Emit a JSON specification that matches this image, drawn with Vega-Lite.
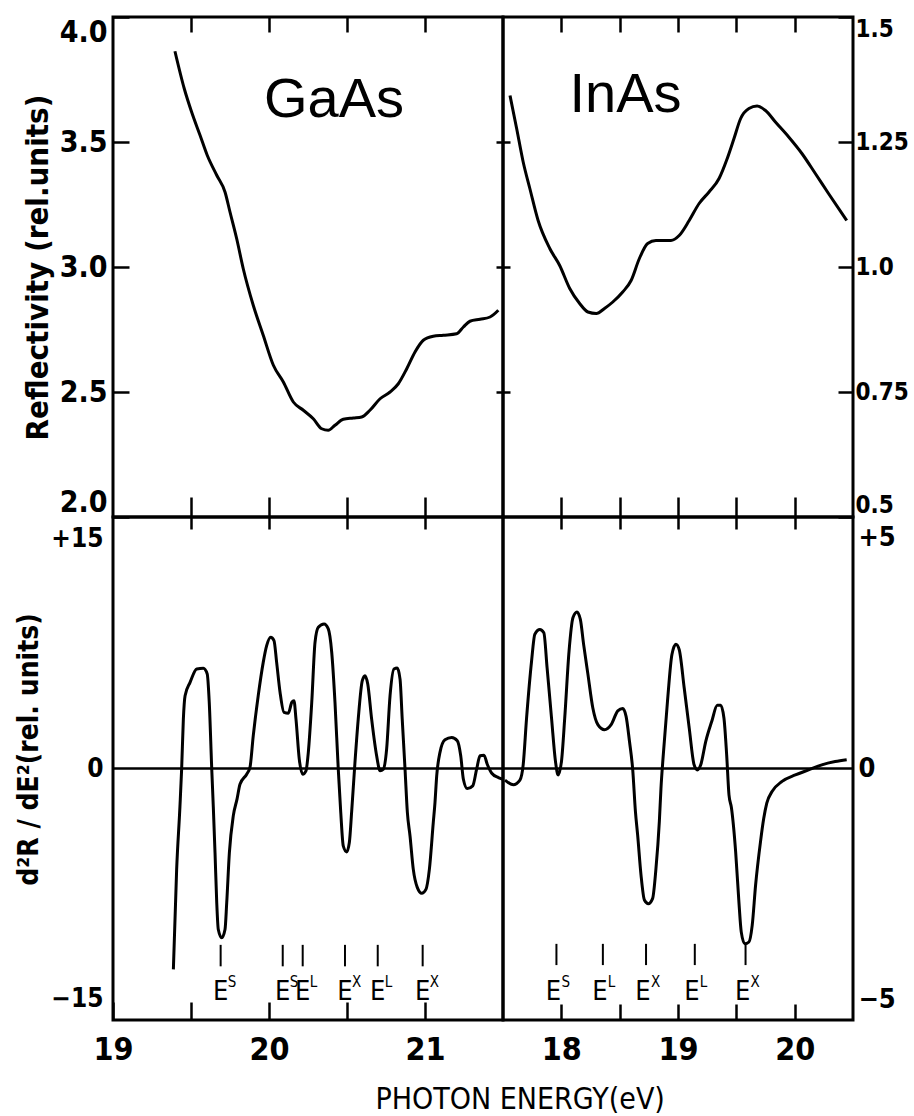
{
  "$schema": "https://vega.github.io/schema/vega-lite/v6.json",
  "background": "white",
  "padding": {"left": 14, "top": 14, "right": 0, "bottom": 0},
  "spacing": 0,
  "bounds": "flush",
  "columns": 2,
  "config": {
    "view": {"stroke": "black", "strokeWidth": 3, "fill": null},
    "font": "DejaVu Sans Condensed",
    "axis": {
      "domain": false, "grid": false, "tickColor": "black", "tickWidth": 2.5,
      "labelColor": "black", "titleColor": "black",
      "labelFont": "DejaVu Sans Condensed", "titleFont": "DejaVu Sans Condensed",
      "labelFontWeight": "bold", "titleFontWeight": "bold", "labelOverlap": false
    },
    "line": {"color": "black", "strokeWidth": 3, "interpolate": "monotone"},
    "rule": {"color": "black"},
    "text": {"color": "black", "font": "DejaVu Sans Condensed"}
  },
  "datasets": {
    "one": [{}],
    "gaasR": [
      {"E": 19.397, "R": 3.863}, {"E": 19.457, "R": 3.713}, {"E": 19.504, "R": 3.62}, {"E": 19.558, "R": 3.527},
      {"E": 19.604, "R": 3.447}, {"E": 19.665, "R": 3.367}, {"E": 19.718, "R": 3.30}, {"E": 19.750, "R": 3.22},
      {"E": 19.793, "R": 3.113}, {"E": 19.835, "R": 2.993}, {"E": 19.899, "R": 2.847}, {"E": 19.963, "R": 2.727},
      {"E": 20.028, "R": 2.607}, {"E": 20.092, "R": 2.54}, {"E": 20.156, "R": 2.46}, {"E": 20.220, "R": 2.427},
      {"E": 20.284, "R": 2.393}, {"E": 20.338, "R": 2.353}, {"E": 20.380, "R": 2.347}, {"E": 20.423, "R": 2.367},
      {"E": 20.476, "R": 2.391}, {"E": 20.540, "R": 2.396}, {"E": 20.594, "R": 2.40}, {"E": 20.647, "R": 2.427},
      {"E": 20.712, "R": 2.473}, {"E": 20.776, "R": 2.50}, {"E": 20.829, "R": 2.533}, {"E": 20.883, "R": 2.593},
      {"E": 20.936, "R": 2.66}, {"E": 20.989, "R": 2.707}, {"E": 21.053, "R": 2.723}, {"E": 21.117, "R": 2.727},
      {"E": 21.203, "R": 2.733}, {"E": 21.246, "R": 2.76}, {"E": 21.288, "R": 2.783}, {"E": 21.353, "R": 2.791},
      {"E": 21.417, "R": 2.80}, {"E": 21.470, "R": 2.827}
    ],
    "inasR": [
      {"E": 17.560, "R": 1.343}, {"E": 17.617, "R": 1.277}, {"E": 17.673, "R": 1.21}, {"E": 17.730, "R": 1.157},
      {"E": 17.801, "R": 1.093}, {"E": 17.901, "R": 1.037}, {"E": 17.986, "R": 1.003}, {"E": 18.072, "R": 0.957},
      {"E": 18.157, "R": 0.927}, {"E": 18.228, "R": 0.91}, {"E": 18.300, "R": 0.907}, {"E": 18.370, "R": 0.917},
      {"E": 18.441, "R": 0.93}, {"E": 18.526, "R": 0.95}, {"E": 18.598, "R": 0.973}, {"E": 18.669, "R": 1.017},
      {"E": 18.740, "R": 1.047}, {"E": 18.811, "R": 1.053}, {"E": 18.939, "R": 1.053}, {"E": 19.010, "R": 1.063},
      {"E": 19.096, "R": 1.093}, {"E": 19.181, "R": 1.127}, {"E": 19.266, "R": 1.15}, {"E": 19.352, "R": 1.177},
      {"E": 19.422, "R": 1.217}, {"E": 19.480, "R": 1.257}, {"E": 19.537, "R": 1.297}, {"E": 19.608, "R": 1.317},
      {"E": 19.678, "R": 1.322}, {"E": 19.750, "R": 1.313}, {"E": 19.835, "R": 1.29}, {"E": 19.949, "R": 1.26},
      {"E": 20.062, "R": 1.227}, {"E": 20.177, "R": 1.187}, {"E": 20.290, "R": 1.147}, {"E": 20.446, "R": 1.093}
    ],
    "gaasD": [
      {"E": 19.387, "V": -13.1}, {"E": 19.408, "V": -6.58}, {"E": 19.429, "V": -2.5}, {"E": 19.440, "V": -0.04},
      {"E": 19.451, "V": 3.22}, {"E": 19.462, "V": 4.75}, {"E": 19.494, "V": 5.62}, {"E": 19.537, "V": 6.49},
      {"E": 19.579, "V": 6.53}, {"E": 19.604, "V": 6.16}, {"E": 19.617, "V": 4.31}, {"E": 19.633, "V": -0.04},
      {"E": 19.643, "V": -2.5}, {"E": 19.654, "V": -5.49}, {"E": 19.665, "V": -8.75}, {"E": 19.675, "V": -10.5},
      {"E": 19.697, "V": -11.04}, {"E": 19.718, "V": -10.5}, {"E": 19.729, "V": -8.75}, {"E": 19.746, "V": -5.49},
      {"E": 19.771, "V": -3.09}, {"E": 19.795, "V": -2.0}, {"E": 19.814, "V": -1.03}, {"E": 19.857, "V": -0.37},
      {"E": 19.878, "V": 0.07}, {"E": 19.899, "V": 2.13}, {"E": 19.931, "V": 4.75}, {"E": 19.963, "V": 6.92},
      {"E": 19.985, "V": 8.01}, {"E": 20.011, "V": 8.56}, {"E": 20.032, "V": 8.34}, {"E": 20.049, "V": 6.92},
      {"E": 20.071, "V": 4.96}, {"E": 20.096, "V": 3.66}, {"E": 20.124, "V": 3.61}, {"E": 20.146, "V": 4.31},
      {"E": 20.160, "V": 4.42}, {"E": 20.173, "V": 3.22}, {"E": 20.194, "V": 0.61}, {"E": 20.216, "V": -0.37},
      {"E": 20.237, "V": -0.15}, {"E": 20.252, "V": 1.05}, {"E": 20.274, "V": 4.31}, {"E": 20.295, "V": 8.23},
      {"E": 20.316, "V": 9.21}, {"E": 20.353, "V": 9.43}, {"E": 20.380, "V": 9.10}, {"E": 20.402, "V": 7.58},
      {"E": 20.423, "V": 4.31}, {"E": 20.444, "V": -0.04}, {"E": 20.460, "V": -2.87}, {"E": 20.476, "V": -5.05},
      {"E": 20.498, "V": -5.44}, {"E": 20.515, "V": -4.83}, {"E": 20.530, "V": -2.8}, {"E": 20.551, "V": 0.39},
      {"E": 20.572, "V": 3.22}, {"E": 20.598, "V": 5.73}, {"E": 20.615, "V": 6.05}, {"E": 20.633, "V": 5.51},
      {"E": 20.658, "V": 3.22}, {"E": 20.690, "V": 0.83}, {"E": 20.712, "V": -0.15}, {"E": 20.733, "V": -0.04},
      {"E": 20.754, "V": 1.26}, {"E": 20.776, "V": 4.75}, {"E": 20.801, "V": 6.49}, {"E": 20.822, "V": 6.55},
      {"E": 20.840, "V": 5.83}, {"E": 20.854, "V": 3.22}, {"E": 20.872, "V": -0.04}, {"E": 20.887, "V": -2.87},
      {"E": 20.904, "V": -4.40}, {"E": 20.925, "V": -6.58}, {"E": 20.951, "V": -7.77}, {"E": 20.979, "V": -8.14},
      {"E": 21.006, "V": -7.88}, {"E": 21.028, "V": -6.58}, {"E": 21.053, "V": -3.53}, {"E": 21.064, "V": -2.22},
      {"E": 21.075, "V": -0.48}, {"E": 21.096, "V": 1.05}, {"E": 21.128, "V": 1.87}, {"E": 21.171, "V": 2.02},
      {"E": 21.207, "V": 1.81}, {"E": 21.229, "V": 0.83}, {"E": 21.246, "V": -0.70}, {"E": 21.271, "V": -1.31},
      {"E": 21.306, "V": -1.13}, {"E": 21.331, "V": -0.04}, {"E": 21.353, "V": 0.83}, {"E": 21.378, "V": 0.87},
      {"E": 21.399, "V": 0.28}, {"E": 21.428, "V": -0.31}, {"E": 21.470, "V": -0.59}, {"E": 21.5, "V": -0.70}
    ],
    "inasD": [
      {"E": 17.517, "V": -0.25}, {"E": 17.588, "V": -0.35}, {"E": 17.645, "V": -0.25}, {"E": 17.673, "V": 0.08},
      {"E": 17.702, "V": 1.09}, {"E": 17.745, "V": 2.33}, {"E": 17.773, "V": 2.91}, {"E": 17.816, "V": 3.01},
      {"E": 17.850, "V": 2.94}, {"E": 17.878, "V": 2.18}, {"E": 17.916, "V": 1.09}, {"E": 17.950, "V": 0.15},
      {"E": 17.972, "V": -0.14}, {"E": 18.001, "V": 0.15}, {"E": 18.029, "V": 1.09}, {"E": 18.066, "V": 2.54},
      {"E": 18.100, "V": 3.27}, {"E": 18.134, "V": 3.39}, {"E": 18.163, "V": 3.23}, {"E": 18.191, "V": 2.69},
      {"E": 18.228, "V": 2.04}, {"E": 18.270, "V": 1.31}, {"E": 18.313, "V": 0.95}, {"E": 18.370, "V": 0.84},
      {"E": 18.427, "V": 0.95}, {"E": 18.484, "V": 1.25}, {"E": 18.526, "V": 1.30}, {"E": 18.555, "V": 1.13},
      {"E": 18.584, "V": 0.59}, {"E": 18.612, "V": -0.03}, {"E": 18.635, "V": -0.93}, {"E": 18.654, "V": -1.44},
      {"E": 18.683, "V": -2.31}, {"E": 18.712, "V": -2.85}, {"E": 18.746, "V": -2.93}, {"E": 18.782, "V": -2.82},
      {"E": 18.811, "V": -2.17}, {"E": 18.840, "V": -1.15}, {"E": 18.854, "V": -0.43}, {"E": 18.874, "V": 0.30},
      {"E": 18.910, "V": 1.46}, {"E": 18.948, "V": 2.47}, {"E": 18.982, "V": 2.69}, {"E": 19.010, "V": 2.58},
      {"E": 19.053, "V": 1.75}, {"E": 19.096, "V": 0.88}, {"E": 19.138, "V": 0.08}, {"E": 19.166, "V": -0.03},
      {"E": 19.195, "V": 0.08}, {"E": 19.238, "V": 0.59}, {"E": 19.289, "V": 1.02}, {"E": 19.337, "V": 1.37},
      {"E": 19.366, "V": 1.37}, {"E": 19.394, "V": 1.09}, {"E": 19.417, "V": 0.30}, {"E": 19.437, "V": -0.57},
      {"E": 19.458, "V": -0.85}, {"E": 19.494, "V": -1.80}, {"E": 19.522, "V": -2.89}, {"E": 19.542, "V": -3.54},
      {"E": 19.573, "V": -3.80}, {"E": 19.608, "V": -3.76}, {"E": 19.636, "V": -3.40}, {"E": 19.665, "V": -2.53},
      {"E": 19.707, "V": -1.59}, {"E": 19.735, "V": -1.08}, {"E": 19.761, "V": -0.75}, {"E": 19.806, "V": -0.50},
      {"E": 19.892, "V": -0.28}, {"E": 20.006, "V": -0.14}, {"E": 20.119, "V": -0.03}, {"E": 20.233, "V": 0.08},
      {"E": 20.347, "V": 0.15}, {"E": 20.446, "V": 0.19}
    ],
    "marksG": [
      {"E": 19.690, "sup": "S"}, {"E": 20.088, "sup": "S"}, {"E": 20.216, "sup": "L"},
      {"E": 20.487, "sup": "X"}, {"E": 20.697, "sup": "L"}, {"E": 20.985, "sup": "X"}
    ],
    "marksI": [
      {"E": 17.958, "sup": "S"}, {"E": 18.356, "sup": "L"}, {"E": 18.726, "sup": "X"},
      {"E": 19.144, "sup": "L"}, {"E": 19.579, "sup": "X"}
    ]
  },
  "concat": [
    {
      "width": 390,
      "height": 500,
      "resolve": {"axis": {"x": "independent", "y": "independent"}},
      "layer": [
        {
          "data": {"name": "gaasR"},
          "mark": {"type": "line"},
          "encoding": {
            "x": {"field": "E", "type": "quantitative", "scale": {"domain": [19, 21.5], "nice": false, "zero": false},
              "axis": {"orient": "bottom", "values": [19.5, 20, 20.5, 21], "labels": false, "tickSize": -20, "title": null}},
            "y": {"field": "R", "type": "quantitative", "scale": {"domain": [2, 4], "nice": false, "zero": false},
              "axis": {"orient": "left", "values": [2, 2.5, 3, 3.5, 4], "format": ".1f", "labelFlush": true,
                "labelFontSize": 30, "tickSize": -16, "labelPadding": 22,
                "title": "Reflectivity (rel.units)", "titleFontSize": 31, "titlePadding": 5}}
          }
        },
        {
          "data": {"name": "one"},
          "mark": {"type": "text", "font": "Liberation Sans", "fontSize": 56, "align": "center", "baseline": "alphabetic"},
          "encoding": {
            "x": {"datum": 20.417, "type": "quantitative",
              "axis": {"orient": "top", "values": [19.5, 20, 20.5, 21], "labels": false, "tickSize": -15, "title": null}},
            "y": {"datum": 3.6, "type": "quantitative",
              "axis": {"orient": "right", "values": [2.5, 3, 3.5], "labels": false, "tickSize": -7, "title": null}},
            "text": {"value": "GaAs"}
          }
        }
      ]
    },
    {
      "width": 350,
      "height": 500,
      "resolve": {"axis": {"x": "independent", "y": "independent"}},
      "layer": [
        {
          "data": {"name": "inasR"},
          "mark": {"type": "line"},
          "encoding": {
            "x": {"field": "E", "type": "quantitative", "scale": {"domain": [17.5, 20.5], "nice": false, "zero": false},
              "axis": {"orient": "bottom", "values": [18, 18.5, 19, 19.5, 20], "labels": false, "tickSize": -20, "title": null}},
            "y": {"field": "R", "type": "quantitative", "scale": {"domain": [0.5, 1.5], "nice": false, "zero": false},
              "axis": {"orient": "right", "values": [0.5, 0.75, 1, 1.25, 1.5], "format": ".2~f",
                "labelExpr": "datum.value == 1 ? '1.0' : datum.label", "labelFlush": true,
                "labelFontSize": 24, "tickSize": -15, "labelPadding": 17, "title": null}}
          }
        },
        {
          "data": {"name": "one"},
          "mark": {"type": "text", "font": "Liberation Sans", "fontSize": 56, "align": "center", "baseline": "alphabetic"},
          "encoding": {
            "x": {"datum": 18.55, "type": "quantitative",
              "axis": {"orient": "top", "values": [18, 18.5, 19, 19.5, 20], "labels": false, "tickSize": -15, "title": null}},
            "y": {"datum": 1.31, "type": "quantitative",
              "axis": {"orient": "left", "values": [0.75, 1, 1.25], "labels": false, "tickSize": -7, "title": null}},
            "text": {"value": "InAs"}
          }
        }
      ]
    },
    {
      "width": 390,
      "height": 503,
      "resolve": {"axis": {"x": "independent", "y": "independent"}},
      "layer": [
        {
          "data": {"name": "gaasD"},
          "mark": {"type": "line"},
          "encoding": {
            "x": {"field": "E", "type": "quantitative", "scale": {"domain": [19, 21.5], "nice": false, "zero": false},
              "axis": {"orient": "bottom", "values": [19, 19.5, 20, 20.5, 21], "format": ".0f",
                "labelExpr": "datum.value % 1 === 0 ? datum.label : ''", "labelFlush": false,
                "labelFontSize": 32, "tickSize": -18, "labelPadding": 32,
                "title": "PHOTON ENERGY(eV)", "titleFontSize": 30, "titleFontWeight": "normal",
                "titleAlign": "left", "titleX": 262, "titleY": 88, "titleBaseline": "alphabetic"}},
            "y": {"field": "V", "type": "quantitative", "scale": {"domain": [-16.4, 16.4], "nice": false, "zero": false},
              "axis": {"orient": "left", "values": [-15, 0, 15], "ticks": false,
                "labelExpr": "datum.value > 0 ? '+' + datum.label : datum.label",
                "labelFontSize": 26, "labelPadding": 10,
                "title": "d²R / dE²(rel. units)", "titleFontSize": 28, "titlePadding": 7, "titleY": 232}}
          }
        },
        {
          "data": {"name": "one"},
          "mark": {"type": "rule", "strokeWidth": 2.5},
          "encoding": {"y": {"datum": 0, "type": "quantitative", "axis": null}}
        },
        {
          "data": {"name": "marksG"},
          "mark": {"type": "rule", "strokeWidth": 2},
          "encoding": {
            "x": {"field": "E", "type": "quantitative",
              "axis": {"orient": "top", "values": [19.5, 20, 20.5, 21], "labels": false, "tickSize": -12, "title": null}},
            "y": {"datum": -11.5, "type": "quantitative", "axis": null},
            "y2": {"datum": -12.9}
          }
        },
        {
          "data": {"name": "marksG"},
          "mark": {"type": "text", "fontSize": 27, "align": "center", "baseline": "middle"},
          "encoding": {
            "x": {"field": "E", "type": "quantitative", "axis": null},
            "y": {"datum": -14.6, "type": "quantitative", "axis": null},
            "text": {"value": "E"}
          }
        },
        {
          "data": {"name": "marksG"},
          "mark": {"type": "text", "fontSize": 15, "align": "left", "baseline": "middle", "dx": 7, "dy": -10},
          "encoding": {
            "x": {"field": "E", "type": "quantitative", "axis": null},
            "y": {"datum": -14.6, "type": "quantitative", "axis": null},
            "text": {"field": "sup"}
          }
        }
      ]
    },
    {
      "width": 350,
      "height": 503,
      "resolve": {"axis": {"x": "independent", "y": "independent"}},
      "layer": [
        {
          "data": {"name": "inasD"},
          "mark": {"type": "line"},
          "encoding": {
            "x": {"field": "E", "type": "quantitative", "scale": {"domain": [17.5, 20.5], "nice": false, "zero": false},
              "axis": {"orient": "bottom", "values": [18, 18.5, 19, 19.5, 20], "format": ".0f",
                "labelExpr": "datum.value % 1 === 0 ? datum.label : ''", "labelFlush": false,
                "labelFontSize": 32, "tickSize": -16, "labelPadding": 30, "title": null}},
            "y": {"field": "V", "type": "quantitative", "scale": {"domain": [-5.45, 5.45], "nice": false, "zero": false},
              "axis": {"orient": "right", "values": [-5, 0, 5], "ticks": false,
                "labelExpr": "datum.value > 0 ? '+' + datum.label : datum.label",
                "labelFontSize": 27, "labelPadding": 5, "title": null}}
          }
        },
        {
          "data": {"name": "one"},
          "mark": {"type": "rule", "strokeWidth": 2.5},
          "encoding": {"y": {"datum": 0, "type": "quantitative", "axis": null}}
        },
        {
          "data": {"name": "marksI"},
          "mark": {"type": "rule", "strokeWidth": 2},
          "encoding": {
            "x": {"field": "E", "type": "quantitative",
              "axis": {"orient": "top", "values": [18, 18.5, 19, 19.5, 20], "labels": false, "tickSize": -12, "title": null}},
            "y": {"datum": -3.8, "type": "quantitative", "axis": null},
            "y2": {"datum": -4.26}
          }
        },
        {
          "data": {"name": "marksI"},
          "mark": {"type": "text", "fontSize": 27, "align": "center", "baseline": "middle", "dx": -3},
          "encoding": {
            "x": {"field": "E", "type": "quantitative", "axis": null},
            "y": {"datum": -4.85, "type": "quantitative", "axis": null},
            "text": {"value": "E"}
          }
        },
        {
          "data": {"name": "marksI"},
          "mark": {"type": "text", "fontSize": 15, "align": "left", "baseline": "middle", "dx": 5, "dy": -10},
          "encoding": {
            "x": {"field": "E", "type": "quantitative", "axis": null},
            "y": {"datum": -4.85, "type": "quantitative", "axis": null},
            "text": {"field": "sup"}
          }
        }
      ]
    }
  ]
}
